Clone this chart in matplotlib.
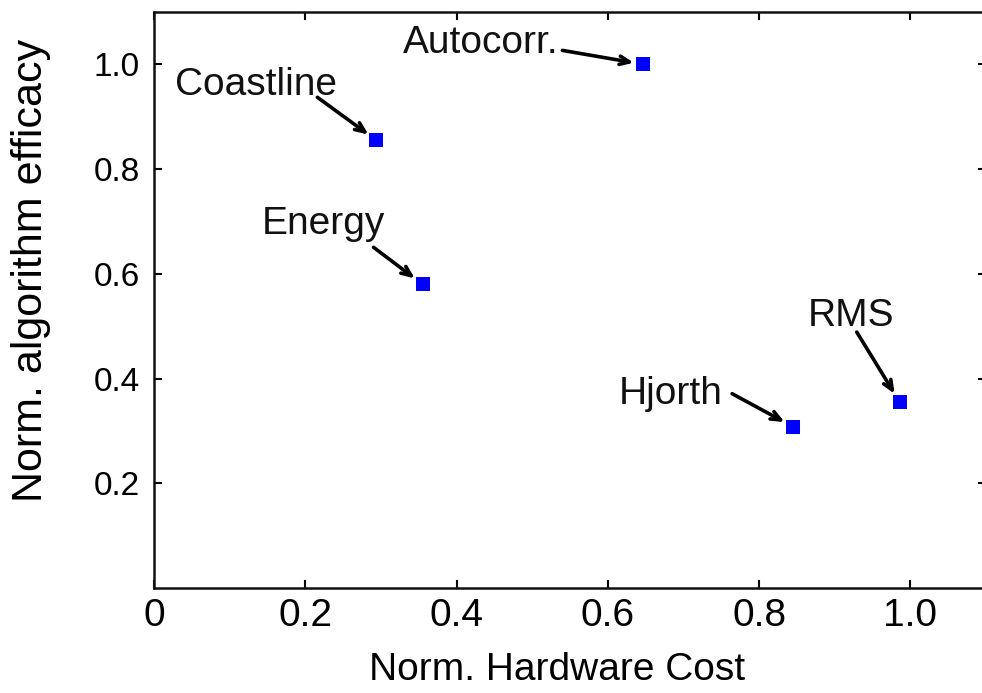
import matplotlib
matplotlib.use("Agg")
import matplotlib.pyplot as plt

plt.rcParams['font.family'] = ['Liberation Sans', 'DejaVu Sans']

# feature extraction algorithms: normalised hardware cost vs. efficacy
names = ["Coastline", "Autocorr.", "Energy", "Hjorth", "RMS"]
hw_cost = [0.294, 0.647, 0.355, 0.845, 0.986]
efficacy = [0.855, 1.0, 0.58, 0.308, 0.355]

xticks = [0, 0.2, 0.4, 0.6, 0.8, 1.0]
xticklabels = ["0", "0.2", "0.4", "0.6", "0.8", "1.0"]
yticks = [0.2, 0.4, 0.6, 0.8, 1.0]
yticklabels = ["0.2", "0.4", "0.6", "0.8", "1.0"]

# label placement (pixels relative to the point): text baseline, arrow tail
text_off = [(-120, 45), (-163, 11), (-99, 50), (-122, 23), (-49, 76)]
arrow_off = [(-59, 43), (-81, 14), (-49, 37), (-61, 33), (-43, 70)]

fig = plt.figure(figsize=(9.82, 6.93), dpi=100)
ax = fig.add_axes([154 / 982, 105 / 693, 832 / 982, 576 / 693])

ax.plot(hw_cost, efficacy, linestyle="none", marker="s", markersize=9.5,
        color="#0000ff", markeredgewidth=0)

for name, x, y, (tx, ty), (ax_, ay_) in zip(names, hw_cost, efficacy, text_off, arrow_off):
    ax.annotate("", xy=(x, y), xytext=(ax_, ay_), textcoords="offset pixels",
                arrowprops=dict(arrowstyle="->,head_length=0.7,head_width=0.3",
                                color="black", lw=2.6, shrinkA=0, shrinkB=7))
    ax.annotate(name, xy=(x, y), xytext=(tx, ty), textcoords="offset pixels",
                ha="center", va="baseline", fontsize=28, color="#111111")

ax.set_xlim(0, 1.1)
ax.set_ylim(0, 1.1)
ax.set_xticks(xticks)
ax.set_xticklabels(xticklabels, fontsize=28)
ax.set_yticks(yticks)
ax.set_yticklabels(yticklabels, fontsize=24)
ax.tick_params(direction="in", length=6, width=1.5, top=True, right=True)
ax.tick_params(axis="x", pad=7)
ax.tick_params(axis="y", pad=10)
for sp in ax.spines.values():
    sp.set_linewidth(1.8)
    sp.set_color("#111111")

ax.set_xlabel("Norm. Hardware Cost", fontsize=28, va="center")
ax.xaxis.set_label_coords(0.484, -0.142)
ax.set_ylabel("Norm. algorithm efficacy", fontsize=31, va="center")
ax.yaxis.set_label_coords(-0.148, 0.552)

fig.savefig("out.png", dpi=100)
